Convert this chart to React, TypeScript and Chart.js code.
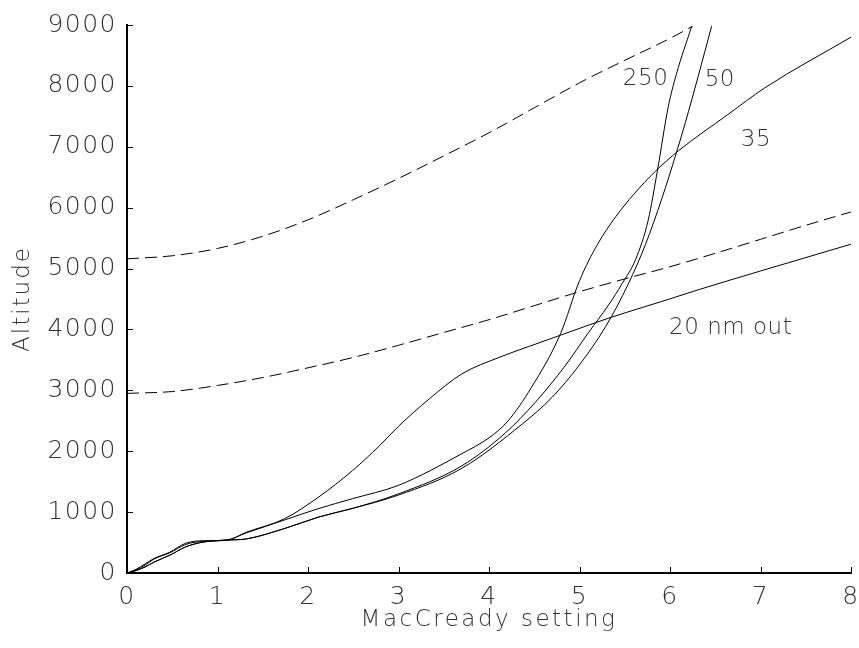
import React, { useEffect, useRef } from "react";
import { Chart, registerables } from "chart.js";

Chart.register(...registerables);

// ---- axis ticks ----
const xTickValues = [0, 1, 2, 3, 4, 5, 6, 7, 8];
const yTickValues = [0, 1000, 2000, 3000, 4000, 5000, 6000, 7000, 8000, 9000];

// ---- axis titles ----
const xTitle = "MacCready setting";
const yTitle = "Altitude";

// ---- dashed reference curves ----
const dashHighX = [0, 0.5, 1, 1.5, 2, 2.5, 3, 3.5, 4, 4.5, 5, 5.5, 6, 6.25];
const dashHighY = [5160, 5210, 5330, 5530, 5800, 6130, 6480, 6850, 7230, 7640, 8050, 8420, 8780, 8980];

const dashLowX = [0, 0.5, 1, 1.5, 2, 2.5, 3, 3.5, 4, 4.5, 5, 5.5, 6, 6.5, 7, 7.5, 8];
const dashLowY = [2950, 2980, 3080, 3210, 3370, 3540, 3740, 3950, 4160, 4390, 4620, 4830, 5030, 5250, 5480, 5710, 5930];

// ---- solid curves ----
const out20X = [0, 0.1, 0.2, 0.3, 0.47, 0.65, 0.85, 1.1, 1.32, 1.74, 2.12, 2.49, 2.79, 3.0, 3.34, 3.7, 4.11, 4.44, 4.78, 5.35, 5.91, 6.31, 7.0, 8.0];
const out20Y = [0, 60, 150, 240, 340, 490, 530, 540, 670, 890, 1250, 1680, 2090, 2410, 2860, 3270, 3540, 3720, 3900, 4200, 4460, 4650, 4960, 5400];

const out35X = [0, 0.1, 0.2, 0.3, 0.47, 0.65, 0.85, 1.1, 1.32, 1.74, 2.12, 2.49, 3.0, 3.7, 4.0, 4.2, 4.47, 4.79, 5.0, 5.2, 5.4, 5.6, 5.84, 6.09, 6.64, 7.05, 8.0];
const out35Y = [0, 50, 130, 230, 330, 470, 520, 540, 660, 870, 1060, 1220, 1440, 1960, 2220, 2480, 3050, 3930, 4800, 5400, 5850, 6220, 6600, 6930, 7530, 7970, 8800];

const out250X = [0, 0.1, 0.2, 0.3, 0.47, 0.65, 0.85, 1.1, 1.32, 1.74, 2.12, 2.49, 3.0, 3.7, 4.18, 4.51, 4.84, 5.1, 5.32, 5.47, 5.62, 5.76, 5.86, 5.98, 6.07, 6.24];
const out250Y = [0, 40, 100, 180, 290, 430, 510, 540, 560, 730, 920, 1060, 1300, 1760, 2300, 2800, 3400, 3950, 4400, 4750, 5150, 5800, 6600, 7650, 8190, 8980];

const out50X = [0, 0.1, 0.2, 0.3, 0.47, 0.65, 0.85, 1.1, 1.32, 1.74, 2.12, 2.49, 3.0, 3.7, 4.37, 4.7, 4.99, 5.29, 5.54, 5.73, 5.91, 6.07, 6.17, 6.31, 6.46];
const out50Y = [0, 40, 100, 180, 290, 430, 510, 540, 560, 730, 920, 1060, 1280, 1720, 2450, 2890, 3400, 4050, 4750, 5400, 6150, 6900, 7400, 8150, 8980];

// ---- curve labels (text, x value, altitude) ----
const labelTexts = ["250", "50", "35", "20 nm out"];
const labelX = [5.73, 6.55, 6.95, 6.67];
const labelY = [8110, 8100, 7110, 4020];

const FONT = "'DejaVu Sans', 'Liberation Sans', sans-serif";
const TEXT_COLOR = "#333";

const toPoints = (xs: number[], ys: number[]) => xs.map((x, i) => ({ x, y: ys[i] }));

const decorations = {
  id: "decorations",
  beforeDraw(chart: any) {
    chart.ctx.letterSpacing = "1.5px";
  },
  afterDraw(chart: any) {
    const { ctx, chartArea, scales } = chart;
    const xs = scales.x;
    const ys = scales.y;
    ctx.save();
    // inward tick marks
    ctx.strokeStyle = "#000";
    ctx.lineWidth = 1;
    ctx.beginPath();
    for (const v of xTickValues) {
      const px = Math.round(xs.getPixelForValue(v)) + 0.5;
      ctx.moveTo(px, chartArea.bottom);
      ctx.lineTo(px, chartArea.bottom - 6);
    }
    for (const v of yTickValues) {
      const py = Math.round(ys.getPixelForValue(v)) + 0.5;
      ctx.moveTo(chartArea.left, py);
      ctx.lineTo(chartArea.left + 6, py);
    }
    ctx.stroke();

    // curve labels
    ctx.fillStyle = TEXT_COLOR;
    ctx.textAlign = "center";
    ctx.textBaseline = "middle";
    ctx.letterSpacing = "0.5px";
    ctx.font = `200 23px ${FONT}`;
    labelTexts.forEach((t, i) => {
      ctx.fillText(t, xs.getPixelForValue(labelX[i]), ys.getPixelForValue(labelY[i]));
    });

    // axis titles
    ctx.letterSpacing = "2.5px";
    ctx.fillText(xTitle, (chartArea.left + chartArea.right) / 2, 620);
    ctx.letterSpacing = "2px";
    ctx.translate(23, (chartArea.top + chartArea.bottom) / 2);
    ctx.rotate(-Math.PI / 2);
    ctx.fillText(yTitle, 0, 0);
    ctx.restore();
  },
};

export default function App() {
  const ref = useRef<HTMLCanvasElement | null>(null);

  useEffect(() => {
    if (!ref.current) return;
    const solid = (xs: number[], ys: number[], label: string) => ({
      label,
      data: toPoints(xs, ys),
      borderColor: "#000",
      borderWidth: 1,
      pointRadius: 0,
      fill: false,
      cubicInterpolationMode: "monotone" as const,
    });
    const dashed = (xs: number[], ys: number[], label: string) => ({
      ...solid(xs, ys, label),
      borderDash: [12, 6],
    });
    const chart = new Chart(ref.current, {
      type: "line",
      data: {
        datasets: [
          dashed(dashHighX, dashHighY, "upper"),
          dashed(dashLowX, dashLowY, "lower"),
          solid(out20X, out20Y, "20 nm out"),
          solid(out35X, out35Y, "35"),
          solid(out250X, out250Y, "250"),
          solid(out50X, out50Y, "50"),
        ],
      },
      options: {
        responsive: false,
        animation: false,
        layout: { padding: { top: 25, right: 8, left: 0, bottom: 0 } },
        plugins: { legend: { display: false }, tooltip: { enabled: false } },
        elements: { line: { tension: 0 } },
        scales: {
          x: {
            type: "linear",
            min: 0,
            max: 8,
            afterBuildTicks: (s: any) => {
              s.ticks = xTickValues.map((v) => ({ value: v }));
            },
            afterFit: (s: any) => {
              s.height = 75;
              s.paddingLeft = 0;
              s.paddingRight = 0;
              s.paddingTop = 0;
              s.paddingBottom = 0;
            },
            grid: { display: false, drawTicks: false },
            border: { display: true, color: "#000", width: 2 },
            ticks: {
              padding: 9,
              color: TEXT_COLOR,
              font: { family: FONT, size: 25, weight: "200" as any },
              maxRotation: 0,
            },
          },
          y: {
            type: "linear",
            min: 0,
            max: 9000,
            afterBuildTicks: (s: any) => {
              s.ticks = yTickValues.map((v) => ({ value: v }));
            },
            afterFit: (s: any) => {
              s.width = 127;
              s.paddingLeft = 0;
              s.paddingRight = 0;
              s.paddingTop = 0;
              s.paddingBottom = 0;
            },
            grid: { display: false, drawTicks: false },
            border: { display: true, color: "#000", width: 2 },
            ticks: {
              padding: 10,
              color: TEXT_COLOR,
              font: { family: FONT, size: 25, weight: "200" as any },
              callback: (v: any) => String(v),
            },
          },
        },
      },
      plugins: [decorations],
    });
    return () => chart.destroy();
  }, []);

  return (
    <div style={{ position: "fixed", left: 0, top: 0, width: 859, height: 648, background: "#fff" }}>
      <canvas ref={ref} width={859} height={648} style={{ display: "block" }} />
    </div>
  );
}
